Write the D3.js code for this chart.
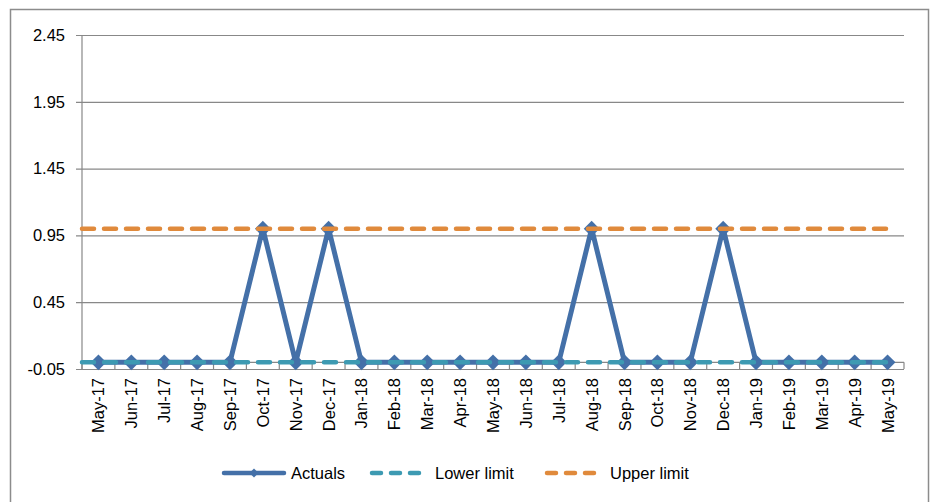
<!DOCTYPE html>
<html><head><meta charset="utf-8">
<script src="https://cdn.jsdelivr.net/npm/d3@7"></script>
<style>body{margin:0;background:#fff;}svg{display:block;font-family:"Liberation Sans",Arial,sans-serif;}</style>
</head><body><svg id="c" width="934" height="502"></svg>
<script>
const categories = ["May-17","Jun-17","Jul-17","Aug-17","Sep-17","Oct-17","Nov-17","Dec-17","Jan-18","Feb-18","Mar-18","Apr-18","May-18","Jun-18","Jul-18","Aug-18","Sep-18","Oct-18","Nov-18","Dec-18","Jan-19","Feb-19","Mar-19","Apr-19","May-19"];
const actuals = [0,0,0,0,0,1,0,1,0,0,0,0,0,0,0,1,0,0,0,1,0,0,0,0,0];
const lowerLimit = categories.map(() => 0);
const upperLimit = categories.map(() => 1);
const yTicks = [-0.05,0.45,0.95,1.45,1.95,2.45];

(function(){
const svg = d3.select("#c");
const pL = 82, pR = 904, pT = 35, pB = 369;
const FS = 16.5;

svg.append("rect").attr("x",10.5).attr("y",9.5).attr("width",918).attr("height",500)
  .attr("fill","#fff").attr("stroke","#8c8c8c").attr("stroke-width",1.5);

const x = d3.scaleBand().domain(categories).range([pL,pR]).paddingInner(0).paddingOuter(0);
const cx = d => x(d) + x.bandwidth()/2;
const y = d3.scaleLinear().domain([-0.05,2.45]).range([pB,pT]);

const yAxis = d3.axisLeft(y).tickValues(yTicks).tickSize(-(pR-pL)).tickPadding(17).tickFormat(d => d.toFixed(2));
const gy = svg.append("g").attr("transform",`translate(${pL},0)`).call(yAxis);
gy.attr("font-family",null).attr("font-size",null);
gy.select(".domain").remove();
gy.selectAll(".tick line").attr("stroke","#888").attr("stroke-width",1.2).attr("x1",-6);
gy.selectAll(".tick text").attr("font-size",FS).attr("fill","#000");
svg.append("line").attr("x1",pL).attr("x2",pL).attr("y1",pT).attr("y2",pB).attr("stroke","#888").attr("stroke-width",1.2);

const y0 = y(0);
svg.append("line").attr("x1",pL).attr("x2",pR).attr("y1",y0).attr("y2",y0).attr("stroke","#888").attr("stroke-width",1.2);
const bounds = categories.map(c => x(c)).concat([pR]);
svg.append("g").selectAll("line").data(bounds).join("line")
  .attr("x1",d=>d).attr("x2",d=>d).attr("y1",y0).attr("y2",pB)
  .attr("stroke","#888").attr("stroke-width",1.2);

svg.append("g").selectAll("text").data(categories).join("text")
  .attr("transform",d=>`translate(${cx(d)+6},${pB+9}) rotate(-90)`)
  .attr("text-anchor","end").attr("font-size",FS).attr("fill","#000").text(d=>d);

function limitLine(vals,color){
  const pts = vals.map((v,i)=>[cx(categories[i]),y(v)]);
  pts[0] = [pL, pts[0][1]];
  svg.append("path").attr("d",d3.line()(pts)).attr("fill","none").attr("stroke",color)
    .attr("stroke-width",4.5).attr("stroke-dasharray","12,10").attr("stroke-linecap","round");
}

const line = d3.line().x((d,i)=>cx(categories[i])).y(d=>y(d));
svg.append("path").datum(actuals).attr("d",line).attr("fill","none").attr("stroke","#4470A8").attr("stroke-width",5);
const diamond = d3.symbol().type(d3.symbolSquare).size(125);
svg.append("g").selectAll("path").data(actuals).join("path")
  .attr("transform",(d,i)=>`translate(${cx(categories[i])},${y(d)}) rotate(45)`)
  .attr("d",diamond).attr("fill","#4470A8");
limitLine(lowerLimit,"#3D9AB2");
limitLine(upperLimit,"#E08A3C");

const ly = 473;
const lg = svg.append("g");
lg.append("line").attr("x1",224).attr("x2",284).attr("y1",ly).attr("y2",ly).attr("stroke","#4470A8").attr("stroke-width",4.5).attr("stroke-linecap","round");
lg.append("path").attr("transform",`translate(254,${ly}) rotate(45)`).attr("d",d3.symbol().type(d3.symbolSquare).size(40)).attr("fill","#4470A8");
lg.append("text").attr("x",291).attr("y",ly+6).attr("font-size",FS).text("Actuals");
lg.append("line").attr("x1",372).attr("x2",421).attr("y1",ly).attr("y2",ly).attr("stroke","#3D9AB2").attr("stroke-width",4.5).attr("stroke-dasharray","9,10").attr("stroke-linecap","round");
lg.append("text").attr("x",435).attr("y",ly+6).attr("font-size",FS).text("Lower limit");
lg.append("line").attr("x1",547).attr("x2",596).attr("y1",ly).attr("y2",ly).attr("stroke","#E08A3C").attr("stroke-width",4.5).attr("stroke-dasharray","9,10").attr("stroke-linecap","round");
lg.append("text").attr("x",610).attr("y",ly+6).attr("font-size",FS).text("Upper limit");
})();
</script></body></html>
